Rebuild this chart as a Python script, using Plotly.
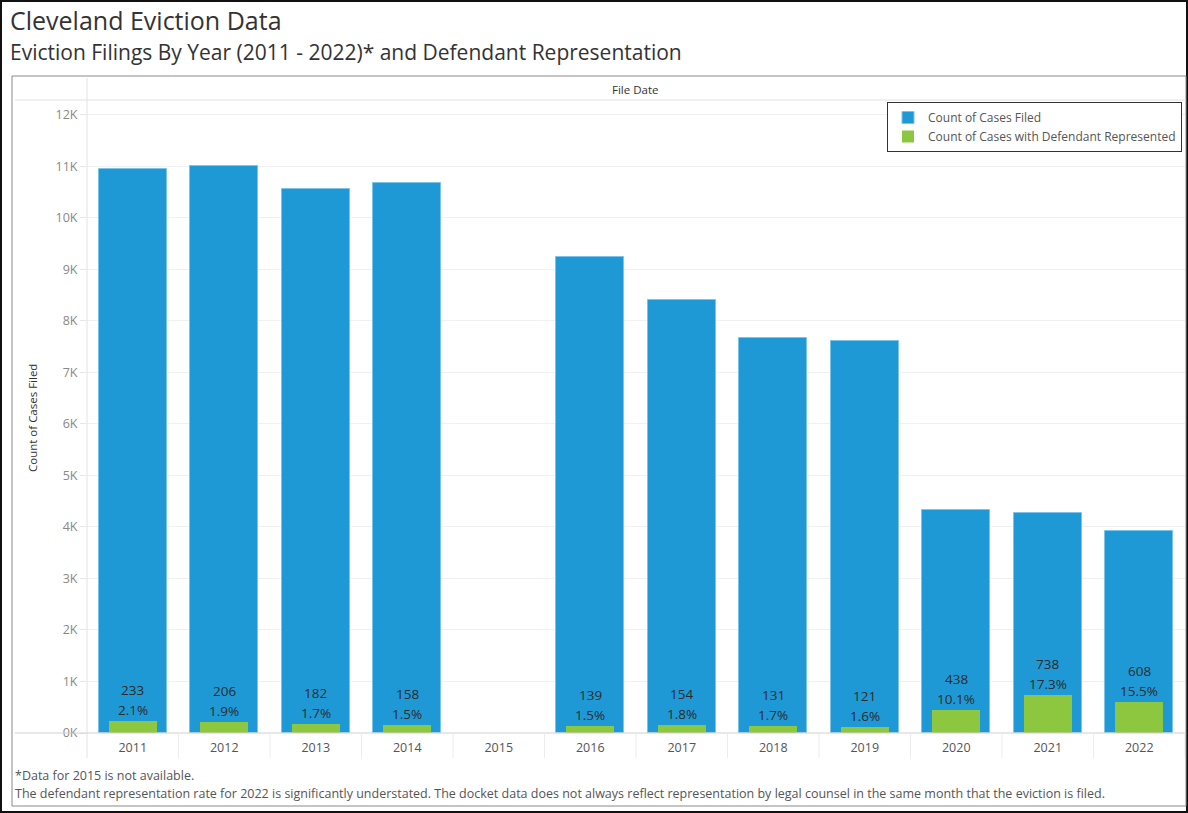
import plotly.graph_objects as go

years = ["2011", "2012", "2013", "2014", "2015", "2016", "2017", "2018", "2019", "2020", "2021", "2022"]
cases_filed = [10950, 11010, 10560, 10680, None, 9240, 8410, 7670, 7610, 4330, 4270, 3920]
cases_represented = [233, 206, 182, 158, None, 139, 154, 131, 121, 438, 738, 608]
rep_pct = ["2.1%", "1.9%", "1.7%", "1.5%", None, "1.5%", "1.8%", "1.7%", "1.6%", "10.1%", "17.3%", "15.5%"]
y_ticks = [0, 1000, 2000, 3000, 4000, 5000, 6000, 7000, 8000, 9000, 10000, 11000, 12000]
y_tick_labels = ["0K", "1K", "2K", "3K", "4K", "5K", "6K", "7K", "8K", "9K", "10K", "11K", "12K"]

W, H = 1188, 813
L, R, T, B = 87, 1185, 100, 733
FONT = "Open Sans"


def px(x):
    return (x - L) / (R - L)


def py(y):
    return (B - y) / (B - T)


fig = go.Figure()
fig.add_trace(go.Bar(
    x=years, y=cases_filed, name="Count of Cases Filed",
    marker=dict(color="#1F99D5", line=dict(color="#7CC3E8", width=1)),
    width=0.74, hoverinfo="x+y",
))
fig.add_trace(go.Bar(
    x=years, y=cases_represented, name="Count of Cases with Defendant Represented",
    marker=dict(color="#8DC63F", line=dict(width=0)),
    width=0.52, hoverinfo="x+y",
))

shapes = [
    dict(type="rect", xref="paper", yref="paper", x0=px(1), x1=px(1187), y0=py(812), y1=py(1),
         line=dict(color="#111", width=2)),
    dict(type="rect", xref="paper", yref="paper", x0=px(12), x1=px(1186), y0=py(806), y1=py(76),
         line=dict(color="#8a8a8a", width=1)),
    dict(type="line", xref="paper", yref="paper", x0=px(15), x1=px(1186), y0=py(100), y1=py(100),
         line=dict(color="#e2e2e2", width=1)),
    dict(type="line", xref="paper", yref="paper", x0=px(87), x1=px(87), y0=py(78), y1=py(758),
         line=dict(color="#e2e2e2", width=1)),
    dict(type="line", xref="paper", yref="paper", x0=px(15), x1=px(1186), y0=py(733), y1=py(733),
         line=dict(color="#d0d0d0", width=1)),
]
for i in range(1, len(years) + 1):
    shapes.append(dict(type="line", xref="x", yref="paper", x0=i - 0.5, x1=i - 0.5,
                       y0=py(758), y1=py(733), line=dict(color="#ececec", width=1)))

annotations = [
    dict(text="Cleveland Eviction Data", xref="paper", yref="paper", x=px(8), y=py(20),
         xanchor="left", yanchor="middle", showarrow=False,
         font=dict(family=FONT, size=25, color="#333")),
    dict(text="Eviction Filings By Year (2011 - 2022)* and Defendant Representation", xref="paper", yref="paper",
         x=px(8), y=py(52), xanchor="left", yanchor="middle", showarrow=False,
         font=dict(family=FONT, size=21, color="#333")),
    dict(text="File Date", xref="paper", yref="paper", x=px(635), y=py(90),
         xanchor="center", yanchor="middle", showarrow=False,
         font=dict(family=FONT, size=11.5, color="#333")),
    dict(text="Count of Cases Filed", xref="paper", yref="paper", x=px(32), y=py(418),
         xanchor="center", yanchor="middle", showarrow=False, textangle=-90,
         font=dict(family=FONT, size=11.5, color="#333")),
    dict(text="*Data for 2015 is not available.", xref="paper", yref="paper", x=px(13), y=py(775),
         xanchor="left", yanchor="middle", showarrow=False,
         font=dict(family=FONT, size=12.5, color="#555")),
    dict(text="The defendant representation rate for 2022 is significantly understated. The docket data does not always reflect representation by legal counsel in the same month that the eviction is filed.",
         xref="paper", yref="paper", x=px(13), y=py(793),
         xanchor="left", yanchor="middle", showarrow=False,
         font=dict(family=FONT, size=12.5, color="#555")),
]

# data labels above the green bars: count and percentage (x given as category index)
for i, (c, p) in enumerate(zip(cases_represented, rep_pct)):
    if c is None:
        continue
    annotations.append(dict(text=p, x=i, y=c, xref="x", yref="y", xanchor="center", yanchor="bottom",
                            yshift=0, showarrow=False,
                            font=dict(family=FONT, size=13.5, color="#2b2b2b")))
    annotations.append(dict(text=str(c), x=i, y=c, xref="x", yref="y", xanchor="center", yanchor="bottom",
                            yshift=20, showarrow=False,
                            font=dict(family=FONT, size=13.5, color="#2b2b2b")))

fig.update_layout(
    width=W, height=H,
    margin=dict(l=L, r=W - R, t=T, b=H - B, pad=0),
    paper_bgcolor="white", plot_bgcolor="white",
    barmode="overlay", bargap=0,
    font=dict(family=FONT, size=12, color="#555"),
    showlegend=True,
    legend=dict(x=px(1182), y=py(102), xanchor="right", yanchor="top",
                bordercolor="#333", borderwidth=1, bgcolor="white",
                font=dict(family=FONT, size=12, color="#555"),
                tracegroupgap=0, itemwidth=30),
    shapes=shapes, annotations=annotations,
)
fig.update_xaxes(type="category", categoryorder="array", categoryarray=years,
                 range=[-0.5, len(years) - 0.5],
                 showgrid=False, showline=False, ticks="", zeroline=False,
                 tickfont=dict(family=FONT, size=12.5, color="#555"), ticklabelstandoff=5)
fig.update_yaxes(range=[0, 12290], tickvals=y_ticks, ticktext=y_tick_labels,
                 showgrid=True, gridcolor="#f0f0f0", gridwidth=1, zeroline=False,
                 showline=False, ticks="outside", ticklen=6, tickcolor="#e6e6e6",
                 tickfont=dict(family=FONT, size=12.5, color="#888"))

fig.write_html("out.html", config={"displayModeBar": False},
               post_script="document.body.style.margin='0';document.body.style.overflow='hidden';")
